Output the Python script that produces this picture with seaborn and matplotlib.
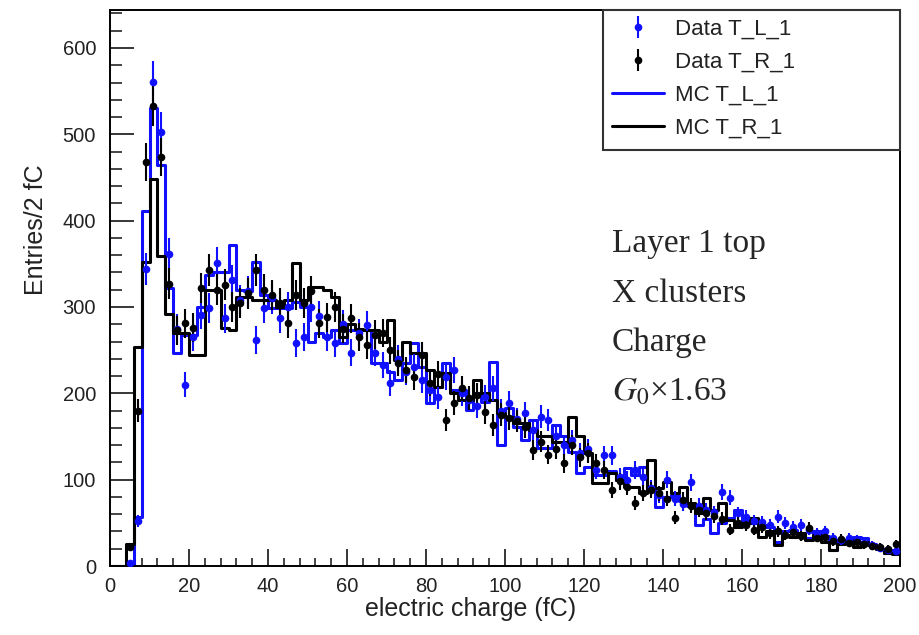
import numpy as np
import pandas as pd
import matplotlib
matplotlib.use('Agg')
import matplotlib.pyplot as plt
import seaborn as sns
from matplotlib.lines import Line2D
from matplotlib.patches import Rectangle
from matplotlib.ticker import MultipleLocator

# bins of 2 fC from 0 to 200
centers = np.arange(1, 200, 2)

# Data T_L_1 (blue points)
data_L = [0, 0, 4, 52, 344, 561, 503, 361, 275, 210,
          265, 291, 299, 351, 287, 331, 308, 318, 262, 299,
          310, 287, 300, 258, 265, 300, 290, 265, 258, 280,
          247, 270, 279, 247, 233, 212, 240, 225, 230, 215,
          204, 196, 219, 227, 200, 192, 185, 196, 206, 180,
          189, 170, 177, 158, 173, 169, 150, 140, 146, 131,
          135, 111, 128, 128, 103, 100, 111, 103, 90, 82,
          100, 78, 72, 97, 70, 65, 62, 86, 79, 61,
          57, 52, 51, 48, 57, 50, 45, 48, 42, 38,
          40, 33, 30, 32, 30, 27, 24, 21, 19, 17]

# Data T_R_1 (black points)
data_R = [0, 0, 22, 180, 468, 533, 474, 327, 273, 281,
          276, 322, 343, 320, 326, 300, 305, 316, 343, 320,
          314, 305, 281, 314, 305, 318, 281, 288, 300, 275,
          287, 265, 256, 268, 270, 250, 235, 227, 219, 244,
          212, 222, 169, 189, 206, 195, 198, 178, 163, 175,
          171, 168, 161, 134, 144, 129, 135, 119, 140, 126,
          131, 119, 111, 88, 98, 92, 73, 85, 88, 84,
          78, 56, 77, 70, 65, 61, 58, 55, 42, 50,
          47, 42, 45, 38, 40, 36, 39, 35, 44, 33,
          34, 29, 31, 27, 28, 25, 23, 22, 20, 25]

# MC T_L_1 (blue histogram)
mc_L = [0, 0, 0, 57, 411, 530, 464, 322, 247, 268,
        268, 300, 337, 341, 341, 372, 320, 318, 352, 314,
        299, 299, 299, 306, 300, 260, 270, 265, 273, 258,
        273, 273, 273, 235, 235, 225, 215, 235, 258, 231,
        189, 207, 235, 204, 204, 181, 200, 190, 236, 140,
        183, 161, 146, 169, 137, 137, 163, 150, 132, 108,
        115, 105, 105, 110, 100, 113, 105, 115, 92, 68,
        80, 82, 75, 70, 48, 55, 38, 50, 56, 65,
        52, 50, 48, 45, 28, 40, 42, 38, 33, 40,
        35, 18, 30, 27, 34, 32, 25, 20, 15, 18]

# MC T_R_1 (black histogram)
mc_R = [0, 0, 25, 254, 352, 448, 359, 292, 270, 270,
        244, 244, 320, 320, 276, 273, 312, 312, 308, 308,
        308, 300, 308, 351, 308, 323, 323, 320, 312, 265,
        280, 275, 273, 273, 260, 285, 239, 260, 247, 247,
        227, 207, 223, 200, 192, 192, 215, 200, 192, 177,
        173, 166, 166, 158, 150, 150, 144, 144, 173, 150,
        131, 96, 96, 108, 100, 92, 92, 85, 123, 90,
        97, 85, 92, 73, 61, 79, 65, 73, 53, 45,
        50, 56, 34, 40, 24, 36, 34, 38, 30, 36,
        28, 19, 25, 30, 22, 28, 24, 20, 15, 14]

info_lines = ['Layer 1 top', 'X clusters', 'Charge', r'$G_0$×1.63']

df = pd.DataFrame({'charge': centers, 'mc_L': mc_L, 'mc_R': mc_R,
                   'data_L': data_L, 'data_R': data_R})

sns.set_style('ticks')
plt.rcParams['font.family'] = ['Liberation Sans', 'DejaVu Sans']
plt.rcParams['mathtext.fontset'] = 'stix'

blue = '#1010ff'

fig = plt.figure(figsize=(9.19, 6.35), dpi=100)
ax = fig.add_axes([110 / 919, 1 - 566 / 635, 790 / 919, 556 / 635])

# MC histograms as steps
sns.histplot(data=df, x='charge', weights='mc_L', binwidth=2, binrange=(0, 200),
             element='step', fill=False, color=blue, linewidth=2.2, ax=ax)
sns.histplot(data=df, x='charge', weights='mc_R', binwidth=2, binrange=(0, 200),
             element='step', fill=False, color='black', linewidth=2.2, ax=ax)

# data points with poisson errors
eb = []
for col_name, col in [('data_L', blue), ('data_R', 'black')]:
    d = df[df[col_name] > 0]
    eb.append(ax.errorbar(d['charge'], d[col_name], yerr=np.sqrt(d[col_name]), fmt='o',
                          color=col, ms=4.5, elinewidth=1.5, capsize=0, zorder=3))

ax.set_xlim(0, 200)
ax.set_ylim(0, 644)
ax.xaxis.set_major_locator(MultipleLocator(20))
ax.xaxis.set_minor_locator(MultipleLocator(4))
ax.yaxis.set_major_locator(MultipleLocator(100))
ax.yaxis.set_minor_locator(MultipleLocator(20))
ax.tick_params(axis='x', which='major', direction='in', length=12, width=1.3,
               labelsize=14.5, pad=8, labelcolor='#222222')
ax.tick_params(axis='x', which='minor', direction='in', length=6, width=1.2)
ax.tick_params(axis='y', which='major', direction='in', length=17, width=1.3,
               labelsize=14.5, pad=10, labelcolor='#222222')
ax.tick_params(axis='y', which='minor', direction='in', length=8.5, width=1.2)
for s in ax.spines.values():
    s.set_visible(True)
    s.set_linewidth(1.4)
    s.set_color('black')

ax.set_xlabel('electric charge (fC)', fontsize=18, color='#222222')
ax.xaxis.set_label_coords(0.456, -0.055)
ax.set_ylabel('Entries/2 fC', fontsize=18, color='#222222')
ax.yaxis.set_label_coords(-0.078, 0.604)

# legend box like ROOT's TLegend
box = Rectangle((603 / 919, 1 - 150 / 635), 297 / 919, 140 / 635,
                transform=fig.transFigure, facecolor='white', edgecolor='#333333',
                linewidth=1.5, zorder=5)
fig.patches.append(box)
handles = [
    eb[0],
    eb[1],
    Line2D([], [], color=blue, linewidth=2.2),
    Line2D([], [], color='black', linewidth=2.2),
]
labels = ['Data T_L_1', 'Data T_R_1', 'MC T_L_1', 'MC T_R_1']
leg = fig.legend(handles, labels, loc='upper left', bbox_to_anchor=(604 / 919, 1 - 10 / 635),
                 frameon=False, fontsize=16, labelspacing=0.55, borderpad=0.38,
                 handlelength=2.3, handletextpad=0.5, borderaxespad=0)
leg.set_zorder(6)
for t in leg.get_texts():
    t.set_color('#222222')

# annotation block
for i, line in enumerate(info_lines):
    fig.text(612 / 919, 1 - (252 + 49.5 * i) / 635, line, fontsize=24,
             family=['Liberation Serif', 'DejaVu Serif'], va='baseline', ha='left')

fig.savefig('out.png', dpi=100)
